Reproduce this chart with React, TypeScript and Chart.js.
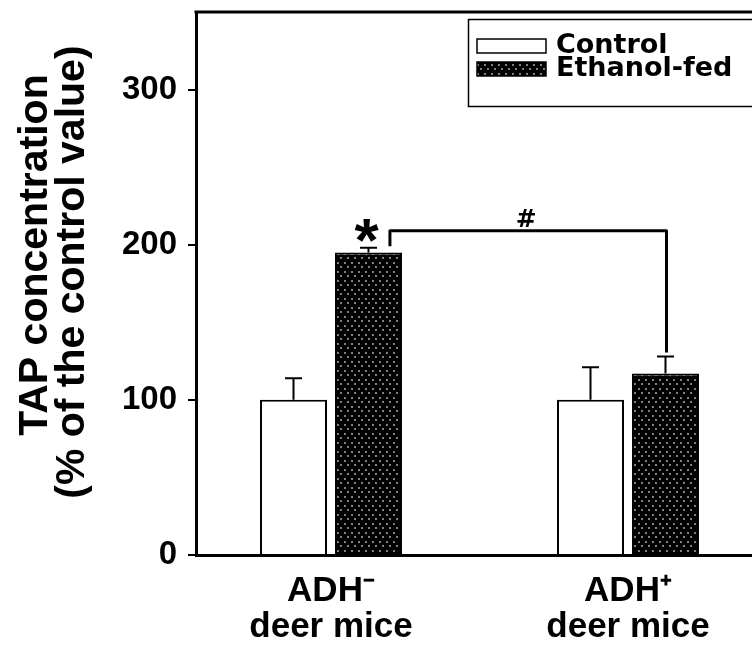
import React, { useEffect, useRef } from 'react';
import { Chart, registerables } from 'chart.js';

Chart.register(...registerables);

// ---- data ----
const groupLabels: string[][] = [
  ['ADH\u207B', 'deer mice'],
  ['ADH\u207A', 'deer mice'],
];
const groupPositions = [1, 2];
const seriesNames = ['Control', 'Ethanol-fed'];
const controlValues = [100, 100];
const controlErrors = [14, 21];
const ethanolValues = [195, 117];
const ethanolErrors = [3, 11];
const yTickValues = [0, 100, 200, 300];
const yMax = 350;
const yTitle = ['     TAP concentration', '  (% of the control value)'];
const starText = '*';
const hashText = '#';
const bracketLevel = 209;

const ARIAL = '"Liberation Sans", Arial, Helvetica, sans-serif';
const WIDE = '"DejaVu Sans", "Liberation Sans", Arial, sans-serif';

function makeDotPattern(ctx: CanvasRenderingContext2D): CanvasPattern | string {
  const c = document.createElement('canvas');
  c.width = 7;
  c.height = 9;
  const g = c.getContext('2d');
  if (!g) return '#111';
  g.fillStyle = '#000';
  g.fillRect(0, 0, 7, 9);
  g.fillStyle = '#808080';
  g.fillRect(1, 1, 2, 2);
  g.fillRect(4, 5, 2, 2);
  return ctx.createPattern(c, 'repeat') || '#111';
}

export default function App() {
  const ref = useRef<HTMLCanvasElement | null>(null);

  useEffect(() => {
    const canvas = ref.current;
    if (!canvas) return;
    const ctx0 = canvas.getContext('2d') as CanvasRenderingContext2D;
    const dots = makeDotPattern(ctx0);

    const errorBars = {
      id: 'errorBars',
      afterDatasetsDraw(chart: any) {
        const ctx = chart.ctx as CanvasRenderingContext2D;
        const ys = chart.scales.y;
        const vals = [controlValues, ethanolValues];
        const errs = [controlErrors, ethanolErrors];
        chart.data.datasets.forEach((_ds: any, di: number) => {
          const meta = chart.getDatasetMeta(di);
          meta.data.forEach((bar: any, i: number) => {
            const top = ys.getPixelForValue(vals[di][i] + errs[di][i]);
            ctx.save();
            ctx.strokeStyle = '#000';
            ctx.lineWidth = 2;
            ctx.beginPath();
            ctx.moveTo(bar.x, bar.y);
            ctx.lineTo(bar.x, top);
            ctx.moveTo(bar.x - 8.5, top);
            ctx.lineTo(bar.x + 8.5, top);
            ctx.stroke();
            ctx.restore();
          });
        });
      },
    };

    const annotations = {
      id: 'annotations',
      afterDatasetsDraw(chart: any) {
        const ctx = chart.ctx as CanvasRenderingContext2D;
        const ys = chart.scales.y;
        const meta = chart.getDatasetMeta(1);
        const b1 = meta.data[0];
        const b2 = meta.data[1];
        const lineY = ys.getPixelForValue(bracketLevel);
        const leftX = b1.x + b1.width * 0.32;
        const rightX = b2.x + 1;
        const leftBottom = ys.getPixelForValue(ethanolValues[0] + ethanolErrors[0] + 1);
        const rightBottom = ys.getPixelForValue(ethanolValues[1] + ethanolErrors[1] + 2.5);
        ctx.save();
        ctx.strokeStyle = '#000';
        ctx.lineWidth = 3;
        ctx.lineJoin = 'round';
        ctx.beginPath();
        ctx.moveTo(leftX, leftBottom);
        ctx.lineTo(leftX, lineY);
        ctx.lineTo(rightX, lineY);
        ctx.lineTo(rightX, rightBottom);
        ctx.stroke();

        ctx.fillStyle = '#000';
        ctx.textAlign = 'center';
        ctx.textBaseline = 'alphabetic';

        // star, centred on its ink box
        ctx.font = `bold 62px ${ARIAL}`;
        const m = ctx.measureText(starText);
        const starCy = ys.getPixelForValue(209);
        const starH = m.actualBoundingBoxAscent + m.actualBoundingBoxDescent;
        ctx.fillText(starText, b1.x - 2, starCy + m.actualBoundingBoxAscent - starH / 2);

        ctx.font = `bold 25px ${WIDE}`;
        const m2 = ctx.measureText(hashText);
        const hashCy = ys.getPixelForValue(217);
        const hashH = m2.actualBoundingBoxAscent + m2.actualBoundingBoxDescent;
        ctx.fillText(hashText, (leftX + rightX) / 2 - 2, hashCy + m2.actualBoundingBoxAscent - hashH / 2);
        ctx.restore();
      },
    };

    const frame = {
      id: 'frame',
      afterDraw(chart: any) {
        const ctx = chart.ctx as CanvasRenderingContext2D;
        const a = chart.chartArea;
        ctx.save();
        ctx.strokeStyle = '#000';
        ctx.lineWidth = 3;
        ctx.beginPath();
        ctx.moveTo(a.left - 1.5, a.top);
        ctx.lineTo(chart.width, a.top);
        ctx.stroke();

        // legend box
        const lx = 468;
        const ly = 19;
        ctx.lineWidth = 1.5;
        ctx.strokeRect(lx + 0.5, ly + 0.5, 320, 87);
        ctx.fillStyle = '#fff';
        ctx.fillRect(477, 39, 69, 14);
        ctx.strokeRect(477, 39, 69, 14);
        ctx.fillStyle = dots as any;
        ctx.fillRect(477, 62, 69, 14);
        ctx.strokeRect(477, 62, 69, 14);
        ctx.fillStyle = '#000';
        ctx.font = `bold 27px ${WIDE}`;
        ctx.textAlign = 'left';
        ctx.textBaseline = 'middle';
        ctx.fillText(seriesNames[0], 556, 46);
        ctx.fillText(seriesNames[1], 556, 69);
        ctx.restore();
      },
    };

    const chart = new Chart(canvas, {
      type: 'bar',
      data: {
        datasets: [
          {
            label: seriesNames[0],
            data: groupPositions.map((x, i) => ({ x, y: controlValues[i] })),
            backgroundColor: '#ffffff',
            borderColor: '#000',
            borderWidth: 2,
            categoryPercentage: 0.505,
            barPercentage: 0.893,
          },
          {
            label: seriesNames[1],
            data: groupPositions.map((x, i) => ({ x, y: ethanolValues[i] })),
            backgroundColor: dots as any,
            borderColor: '#000',
            borderWidth: 2,
            categoryPercentage: 0.505,
            barPercentage: 0.893,
          },
        ],
      },
      options: {
        responsive: false,
        animation: false,
        layout: { padding: { left: 0, right: 0, top: 12, bottom: 0 } },
        plugins: { legend: { display: false }, tooltip: { enabled: false } },
        scales: {
          x: {
            type: 'linear',
            offset: false,
            min: 0.54545,
            max: 2.41751,
            afterBuildTicks: (s: any) => {
              s.ticks = groupPositions.map((v) => ({ value: v }));
            },
            afterFit: (s: any) => {
              s.height = 90;
              s.paddingLeft = 0;
              s.paddingRight = 0;
            },
            grid: { display: false, drawTicks: false },
            border: { display: true, color: '#000', width: 3 },
            ticks: {
              autoSkip: false,
              maxRotation: 0,
              color: '#000',
              padding: 18,
              font: { family: ARIAL, size: 35, weight: 'bold', lineHeight: 1.04 },
              callback: (v: any) => {
                const i = groupPositions.indexOf(Number(v));
                return i >= 0 ? groupLabels[i] : '';
              },
            },
          },
          y: {
            min: 0,
            max: yMax,
            afterBuildTicks: (s: any) => {
              s.ticks = yTickValues.map((v) => ({ value: v }));
            },
            afterFit: (s: any) => {
              s.width = 196;
              s.paddingTop = 0;
              s.paddingBottom = 0;
            },
            grid: { drawOnChartArea: false, drawTicks: true, tickLength: 8, color: '#000', lineWidth: 2 },
            border: { display: true, color: '#000', width: 3 },
            ticks: {
              color: '#000',
              padding: 11,
              font: { family: ARIAL, size: 33, weight: 'bold' },
            },
            title: {
              display: true,
              text: yTitle,
              color: '#000',
              padding: { top: 17, bottom: 0 },
              font: { family: ARIAL, size: 41, weight: 'bold', lineHeight: 0.9 },
            },
          },
        },
      },
      plugins: [errorBars, annotations, frame],
    } as any);

    return () => chart.destroy();
  }, []);

  return (
    <div style={{ position: 'absolute', left: 0, top: 0, width: 752, height: 645, background: '#fff' }}>
      <canvas ref={ref} width={752} height={645} style={{ display: 'block' }} />
    </div>
  );
}
